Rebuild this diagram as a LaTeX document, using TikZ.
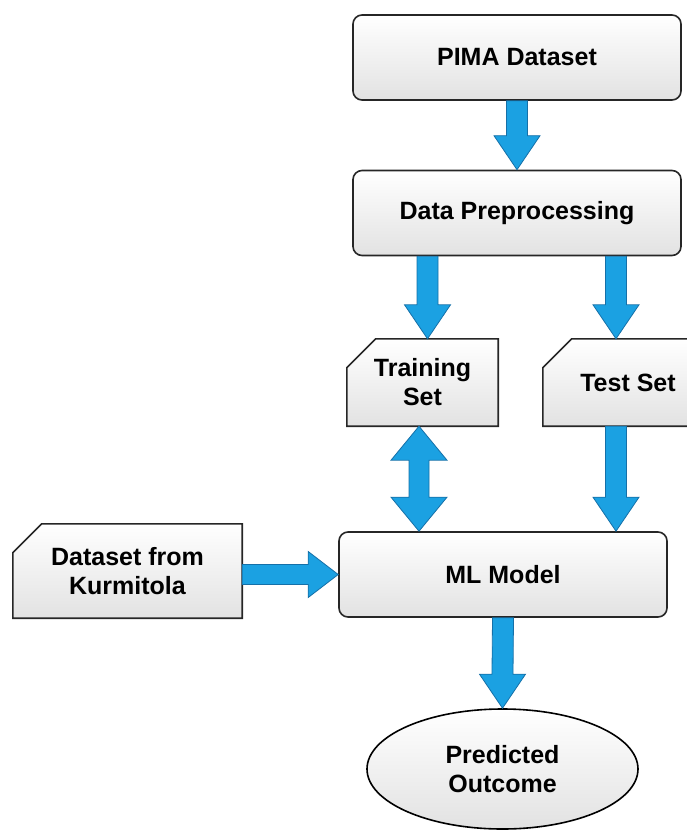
\documentclass[tikz,border=0pt]{standalone}
\usepackage{fontspec}
\setmainfont{Liberation Sans}
\usetikzlibrary{calc,shapes.geometric,backgrounds}

\definecolor{arrowblue}{HTML}{1BA1E2}
\definecolor{arrowline}{HTML}{1570A8}
\definecolor{boxgray}{HTML}{E2E2E2}

\newcommand{\cardback}[1]{%
  \begin{pgfonlayer}{background}
  \draw[cardline] (#1.south west) -- ([yshift=-29pt]#1.north west)
    -- ([xshift=29pt]#1.north west) -- (#1.north east) -- (#1.south east) -- cycle;
  \end{pgfonlayer}}

\newcommand{\downblock}[2]{%
  \draw[blockarrow] ($(#1)+(-10.5,0)$) -- ($(#2)+(-10.5,34)$) -- ($(#2)+(-23,34)$)
    -- (#2) -- ($(#2)+(23,34)$) -- ($(#2)+(10.5,34)$) -- ($(#1)+(10.5,0)$) -- cycle;}

\newcommand{\rightblock}[2]{%
  \draw[blockarrow] ($(#1)+(0,10)$) -- ($(#2)+(-30,10)$) -- ($(#2)+(-30,23)$)
    -- (#2) -- ($(#2)+(-30,-23)$) -- ($(#2)+(-30,-10)$) -- ($(#1)+(0,-10)$) -- cycle;}

\newcommand{\bothblock}[2]{%
  \draw[blockarrow] (#1) -- ($(#1)+(28,-34)$) -- ($(#1)+(10,-34)$) -- ($(#2)+(10,34)$)
    -- ($(#2)+(28,34)$) -- (#2) -- ($(#2)+(-28,34)$) -- ($(#2)+(-10,34)$)
    -- ($(#1)+(-10,-34)$) -- ($(#1)+(-28,-34)$) -- cycle;}

\begin{document}
\begin{tikzpicture}[x=1pt, y=1pt,
    txt/.style={font=\bfseries\fontsize{25}{29}\selectfont, align=center, text=black},
    roundbox/.style={txt, draw=black!85, line width=1.6pt, rounded corners=9pt,
      top color=white, bottom color=boxgray, minimum width=328pt, minimum height=85pt},
    cardbox/.style={txt, minimum width=151pt, minimum height=87pt, inner sep=0pt},
    cardline/.style={draw=black!85, line width=1.6pt, top color=white, bottom color=boxgray},
    blockarrow/.style={fill=arrowblue, draw=arrowline, line width=0.8pt, line join=miter}]

\path[use as bounding box, clip] (0,0) rectangle (686,-830);

\node[roundbox] (pima) at (517,-57.5) {PIMA Dataset};
\node[roundbox] (prep) at (517,-213) {Data Preprocessing};

\node[cardbox] (train) at (422.5,-382.5) {Training\\Set};
\node[cardbox, minimum width=170pt] (test) at (628,-382.5) {Test Set};
\node[cardbox, minimum width=229pt, minimum height=94pt] (kurm) at (127.5,-571) {Dataset from\\Kurmitola};

\node[roundbox] (ml) at (503,-574.5) {ML Model};
\node[txt, ellipse, draw=black, line width=1.6pt, top color=white, bottom color=boxgray,
  minimum width=271pt, minimum height=120pt] (out) at (502.5,-769) {Predicted\\Outcome};

\cardback{train}
\cardback{test}
\cardback{kurm}

% arrow ends
\coordinate (trainin) at ([xshift=5pt]train.north);
\coordinate (trainout) at ([xshift=-3.5pt]train.south);
\coordinate (testin) at ([xshift=-12pt]test.north);
\coordinate (testout) at ([xshift=-12pt]test.south);

\downblock{pima.south}{prep.north}
\downblock{trainin |- prep.south}{trainin}
\downblock{testin |- prep.south}{testin}
\bothblock{trainout}{trainout |- ml.north}
\downblock{testout}{testout |- ml.north}
\rightblock{kurm.east |- ml.west}{ml.west}
\downblock{ml.south}{out.north}

\end{tikzpicture}
\end{document}
